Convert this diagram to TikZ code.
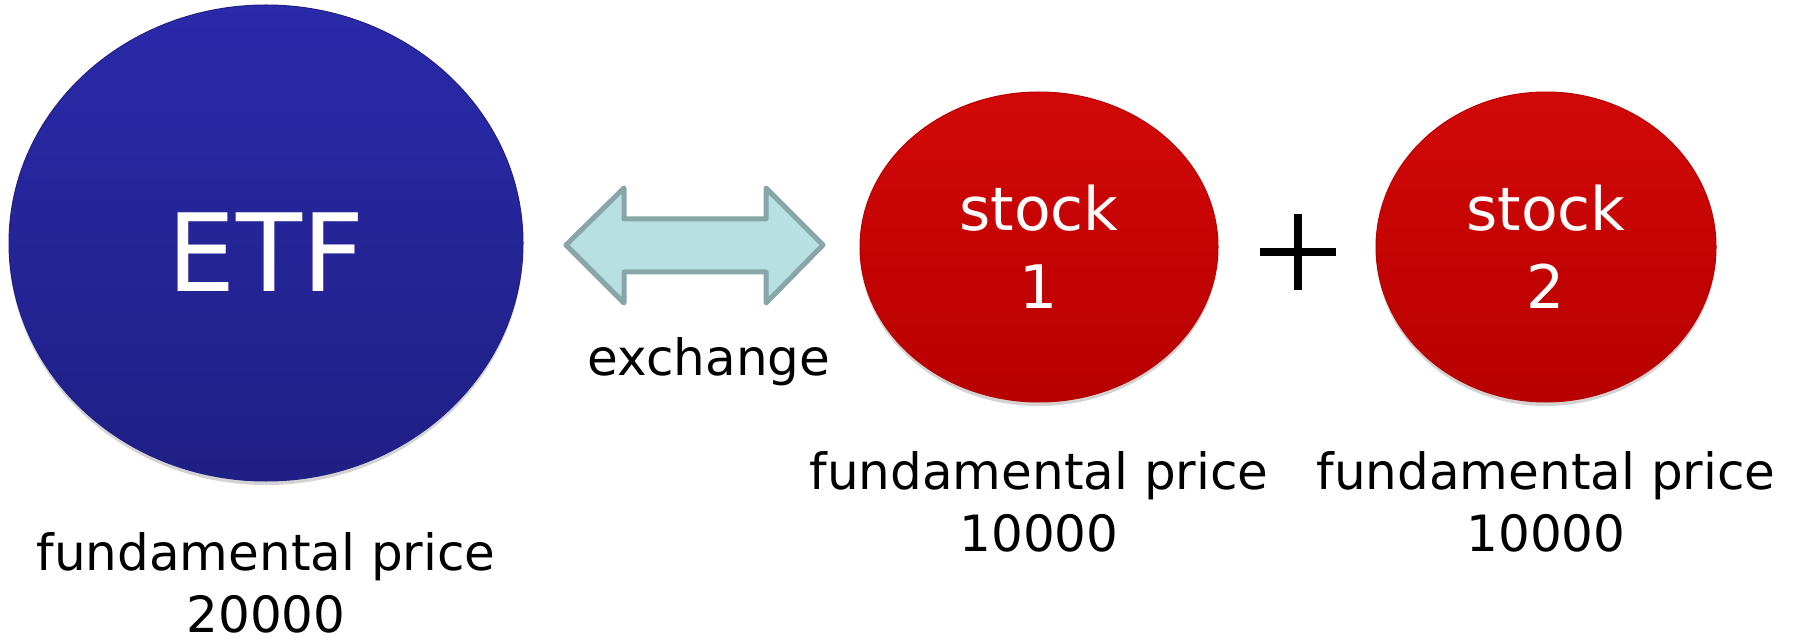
\documentclass[tikz,border=0pt]{standalone}
\usepackage{fontspec}
\setmainfont{DejaVu Sans}
\usetikzlibrary{shapes.geometric,shadows}
\definecolor{etfblue}{HTML}{2A2AAA}
\definecolor{etfdark}{HTML}{1F1F85}
\definecolor{stockred}{HTML}{D20808}
\definecolor{stockdark}{HTML}{B80000}
\definecolor{arrowfill}{HTML}{B8DFE2}
\definecolor{arrowline}{HTML}{88A6A8}
\tikzset{
  x=1pt, y=-1pt,
  blob/.style={ellipse, inner sep=0pt, text=white, align=center,
    drop shadow={opacity=0.35, shadow xshift=0pt, shadow yshift=-4pt}},
  etfblob/.style={blob, top color=etfblue, bottom color=etfdark, draw=etfdark, line width=1pt,
    minimum width=514pt, minimum height=476pt},
  etftext/.style={text=white, font=\fontsize{108}{120}\selectfont, inner sep=0pt},
  stockblob/.style={blob, top color=stockred, bottom color=stockdark, draw=stockdark, line width=1pt,
    font=\fontsize{60}{78}\selectfont},
  pricelabel/.style={align=center, font=\fontsize{50}{62}\selectfont, inner sep=0pt},
  xarrow/.style={fill=arrowfill, draw=arrowline, line width=5pt, line join=round},
}
\begin{document}
\begin{tikzpicture}
\useasboundingbox (0,0) rectangle (1798,644);
\node[etfblob, label={[etftext, yshift=-9pt]center:ETF}] (etf) at (266,243) {};
\node[stockblob, minimum width=358pt, minimum height=310pt] (s1) at (1039,247) {stock\\1};
\node[stockblob, minimum width=340pt, minimum height=310pt] (s2) at (1546,247) {stock\\2};
\node[pricelabel] (etflab) at (266,583) {fundamental price\\20000};
\node[pricelabel] (s1lab) at (1039,502) {fundamental price\\10000};
\node[pricelabel] (s2lab) at (1546,502) {fundamental price\\10000};
\node[pricelabel] (exlab) at (709,362) {exchange};
% exchange block arrow
\coordinate (xa) at (566,245);
\coordinate (xb) at (823,245);
\draw[xarrow] (xa) -- (624,188) -- (624,219) -- (766,219) -- (766,188) -- (xb)
  -- (766,303) -- (766,272) -- (624,272) -- (624,303) -- cycle;
% plus sign
\coordinate (plus) at (1298,252);
\draw[line width=8pt] ([xshift=-38pt]plus) -- ([xshift=38pt]plus)
  ([yshift=-38pt]plus) -- ([yshift=38pt]plus);
\end{tikzpicture}
\end{document}
